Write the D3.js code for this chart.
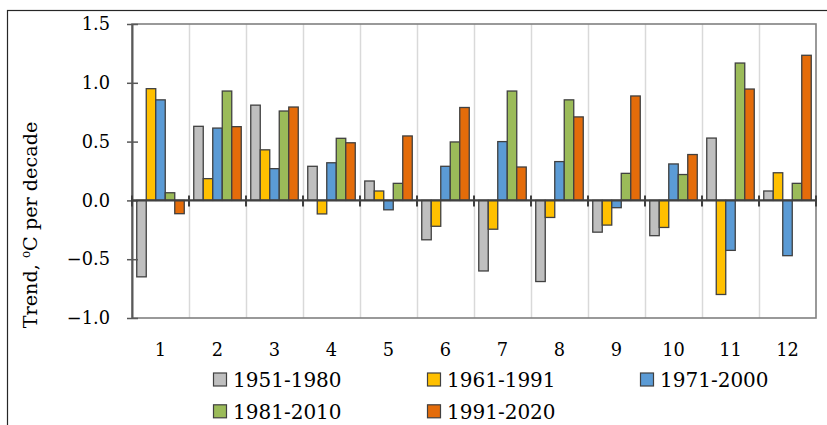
<!DOCTYPE html>
<html>
<head>
<meta charset="utf-8">
<script src="https://cdn.jsdelivr.net/npm/d3@7"></script>
<style>
  html, body { margin: 0; padding: 0; background: #fff; }
  svg { display: block; }
  text { font-family: "DejaVu Serif", serif; fill: #000; }
</style>
</head>
<body>
<svg id="chart" width="827" height="425"></svg>
<script>
// ---- data ----
const months = ["1","2","3","4","5","6","7","8","9","10","11","12"];
const seriesNames = ["1951-1980","1961-1991","1971-2000","1981-2010","1991-2020"];
const s1951_1980 = [-0.65, 0.63, 0.81, 0.29, 0.165, -0.335, -0.60, -0.69, -0.27, -0.30, 0.53, 0.08];
const s1961_1991 = [0.95, 0.185, 0.43, -0.115, 0.08, -0.22, -0.245, -0.145, -0.21, -0.23, -0.80, 0.235];
const s1971_2000 = [0.855, 0.615, 0.27, 0.32, -0.08, 0.29, 0.50, 0.33, -0.062, 0.31, -0.425, -0.47];
const s1981_2010 = [0.065, 0.93, 0.76, 0.528, 0.145, 0.497, 0.93, 0.855, 0.23, 0.22, 1.168, 0.145];
const s1991_2020 = [-0.113, 0.627, 0.794, 0.49, 0.548, 0.79, 0.284, 0.71, 0.888, 0.39, 0.947, 1.234];
const yTicks = [-1.0, -0.5, 0.0, 0.5, 1.0, 1.5];
const colors = ["#BFBFBF", "#FFC000", "#5B9BD5", "#9BBB59", "#E46C0A"];

const allSeries = [s1951_1980, s1961_1991, s1971_2000, s1981_2010, s1991_2020];

const svg = d3.select("#chart");

// outer frame
svg.append("rect").attr("x", 7.5).attr("y", 10.5).attr("width", 840).attr("height", 440)
  .attr("fill", "none").attr("stroke", "#262626").attr("stroke-width", 1.2);

const pL = 132, pR = 816, pT = 24, pB = 318;

const x0 = d3.scaleBand().domain(months).range([pL, pR]).paddingInner(0).paddingOuter(0);
const bw = x0.bandwidth();
const x1 = d3.scaleBand().domain(seriesNames).range([bw * 0.0833, bw * (1 - 0.0833)]).padding(0);
const y = d3.scaleLinear().domain([-1.0, 1.5]).range([pB, pT]);

// vertical gridlines at category boundaries
const boundaries = months.slice(1).map(m => x0(m));
svg.append("g").selectAll("line").data(boundaries).join("line")
  .attr("x1", d => Math.round(d) + 0.5).attr("x2", d => Math.round(d) + 0.5)
  .attr("y1", pT).attr("y2", pB)
  .attr("stroke", "#D9D9D9").attr("stroke-width", 1.5);

// plot border
svg.append("rect").attr("x", pL).attr("y", pT).attr("width", pR - pL).attr("height", pB - pT)
  .attr("fill", "none").attr("stroke", "#808080").attr("stroke-width", 1.6);

// bars
const groups = svg.append("g").selectAll("g").data(months).join("g")
  .attr("transform", d => `translate(${x0(d)},0)`);
groups.selectAll("rect").data((m, i) => seriesNames.map((s, k) => ({ s, k, v: allSeries[k][i] })))
  .join("rect")
  .attr("x", d => x1(d.s))
  .attr("width", x1.bandwidth())
  .attr("y", d => y(Math.max(0, d.v)))
  .attr("height", d => Math.abs(y(d.v) - y(0)))
  .attr("fill", d => colors[d.k])
  .attr("stroke", "#404040").attr("stroke-width", 1.3);

// left axis
const yAxis = d3.axisLeft(y).tickValues(yTicks).tickFormat(d3.format(".1f")).tickSize(0).tickPadding(22);
const gy = svg.append("g").attr("transform", `translate(${pL},0)`).call(yAxis);
gy.select(".domain").attr("stroke", "#595959").attr("stroke-width", 2);
gy.selectAll(".tick text").style("font-family", "DejaVu Serif").style("font-size", "17.8px").attr("fill", "#000");
gy.selectAll(".tick line").remove();
gy.selectAll(".tick").append("line").attr("x1", -5).attr("x2", 6).attr("stroke", "#595959").attr("stroke-width", 1.5);

// zero line with crossing ticks
svg.append("line").attr("x1", pL).attr("x2", pR).attr("y1", y(0)).attr("y2", y(0))
  .attr("stroke", "#404040").attr("stroke-width", 2.2);
const tickXs = months.map(m => x0(m)).concat([pR]);
svg.append("g").selectAll("line").data(tickXs).join("line")
  .attr("x1", d => d).attr("x2", d => d).attr("y1", y(0) - 5).attr("y2", y(0) + 6)
  .attr("stroke", "#404040").attr("stroke-width", 2);

// category labels
svg.append("g").selectAll("text").data(months).join("text")
  .attr("x", d => x0(d) + bw / 2).attr("y", 356)
  .attr("text-anchor", "middle").style("font-size", "17.8px")
  .text(d => d);

// y title
const tt = svg.append("text")
  .attr("transform", "translate(36.5,225) rotate(-90)")
  .attr("text-anchor", "middle").style("font-size", "19.2px");
tt.append("tspan").text("Trend, ");
tt.append("tspan").text("o").attr("dy", -6.5).style("font-size", "12px");
tt.append("tspan").text("C per decade").attr("dy", 6.5);

// legend
const legendPos = [[213, 379.5], [427, 379.5], [640, 379.5], [213, 411.3], [427, 411.3]];
const lg = svg.append("g").selectAll("g").data(seriesNames).join("g")
  .attr("transform", (d, i) => `translate(${legendPos[i][0]},${legendPos[i][1]})`);
lg.append("rect").attr("x", 0.5).attr("y", -6.5).attr("width", 13).attr("height", 13)
  .attr("fill", (d, i) => colors[i]).attr("stroke", "#404040").attr("stroke-width", 1.2);
lg.append("text").attr("x", 20).attr("y", 7.5).style("font-size", "20px").text(d => d);
</script>
</body>
</html>
